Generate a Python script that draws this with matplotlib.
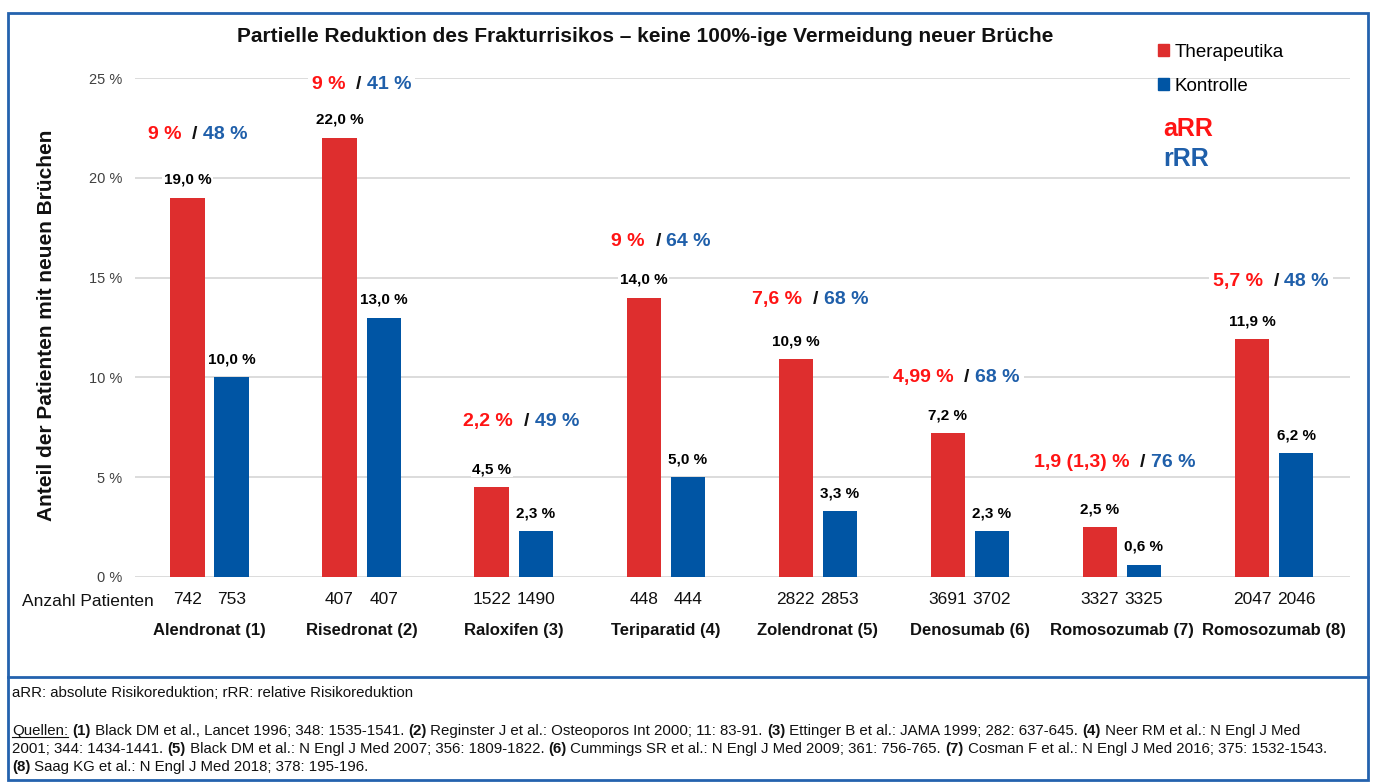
import matplotlib
matplotlib.use("Agg")
import matplotlib.pyplot as plt
import numpy as np
from matplotlib import font_manager
from matplotlib.patches import Patch, Rectangle
from matplotlib.lines import Line2D
from matplotlib.offsetbox import TextArea, HPacker, AnnotationBbox
from matplotlib.transforms import blended_transform_factory

# ---------------------------------------------------------------------------
# Data
# ---------------------------------------------------------------------------
categories = ["Alendronat (1)", "Risedronat (2)", "Raloxifen (3)", "Teriparatid (4)",
              "Zolendronat (5)", "Denosumab (6)", "Romosozumab (7)", "Romosozumab (8)"]
therapie = [19.0, 22.0, 4.5, 14.0, 10.9, 7.2, 2.5, 11.9]
kontrolle = [10.0, 13.0, 2.3, 5.0, 3.3, 2.3, 0.6, 6.2]
n_therapie = [742, 407, 1522, 448, 2822, 3691, 3327, 2047]
n_kontrolle = [753, 407, 1490, 444, 2853, 3702, 3325, 2046]
arr = ["9 %", "9 %", "2,2 %", "9 %", "7,6 %", "4,99 %", "1,9 (1,3) %", "5,7 %"]
rrr = ["48 %", "41 %", "49 %", "64 %", "68 %", "68 %", "76 %", "48 %"]
y_ticks = [0, 5, 10, 15, 20, 25]

# layout of the aRR / rRR annotations (x shift in category units, y in %)
ann_dx = [-0.08, 0.0, 0.05, -0.03, -0.05, -0.09, -0.05, -0.02]
ann_y = [22.15, 24.65, 7.77, 16.8, 13.9, 9.97, 5.76, 14.8]

title = "Partielle Reduktion des Frakturrisikos \u2013 keine 100%-ige Vermeidung neuer Brüche"

# ---------------------------------------------------------------------------
# Style
# ---------------------------------------------------------------------------
names = {f.name for f in font_manager.fontManager.ttflist}
SANS = "Liberation Sans" if "Liberation Sans" in names else "DejaVu Sans"
NARROW = "Liberation Sans Narrow" if "Liberation Sans Narrow" in names else SANS
plt.rcParams["font.family"] = SANS

RED_BAR = "#DE2E2E"
BLUE_BAR = "#0055A4"
RED_TXT = "#FF1414"
BLUE_TXT = "#1F5FAA"
FRAME = "#2462AE"

W, H = 1375, 783
fig = plt.figure(figsize=(W / 100, H / 100), dpi=100)
ax = fig.add_axes([135 / W, 1 - 577 / H, (1350 - 135) / W, (577 - 78) / H])

x = np.arange(len(categories))
bw = 0.225
off = 0.145
ax.bar(x - off, therapie, bw, color=RED_BAR, zorder=3)
ax.bar(x + off, kontrolle, bw, color=BLUE_BAR, zorder=3)

ax.set_xlim(-0.49, 7.5)
ax.set_ylim(0, 25)
ax.set_yticks(y_ticks, [f"{t} %" for t in y_ticks])
ax.set_xticks([])
ax.tick_params(axis="y", length=0, pad=9, labelsize=10.5, labelcolor="#404040")
ax.grid(axis="y", color="#D9D9D9", lw=1.3, zorder=0)
for s in ax.spines.values():
    s.set_visible(False)


def fmt(v):
    return f"{v:.1f}".replace(".", ",") + " %"


for xi, v in zip(x - off, therapie):
    ax.annotate(fmt(v), (xi, v), xytext=(0, 13), textcoords="offset points",
                ha="center", va="center", fontsize=11, fontweight="bold",
                family=NARROW, bbox=dict(fc="white", ec="none", pad=1), zorder=5)
for xi, v in zip(x + off, kontrolle):
    ax.annotate(fmt(v), (xi, v), xytext=(0, 13), textcoords="offset points",
                ha="center", va="center", fontsize=11, fontweight="bold",
                family=NARROW, bbox=dict(fc="white", ec="none", pad=1), zorder=5)

# aRR / rRR pairs
for i in range(len(categories)):
    parts = [TextArea(arr[i] + "  ", textprops=dict(color=RED_TXT, fontsize=14,
                                                     fontweight="bold", family=NARROW)),
             TextArea("/ ", textprops=dict(color="#111111", fontsize=14,
                                           fontweight="bold", family=NARROW)),
             TextArea(rrr[i], textprops=dict(color=BLUE_TXT, fontsize=14,
                                             fontweight="bold", family=NARROW))]
    box = HPacker(children=parts, align="baseline", pad=0, sep=0)
    ab = AnnotationBbox(box, (x[i] + ann_dx[i], ann_y[i]), frameon=True,
                        box_alignment=(0.5, 0.5), pad=0.3,
                        bboxprops=dict(fc="white", ec="none"), zorder=6)
    ax.add_artist(ab)

# counts and category names below the axis
tr = blended_transform_factory(ax.transData, fig.transFigure)
for xi, n in zip(x - off, n_therapie):
    ax.text(xi, 1 - 600 / H, str(n), transform=tr, ha="center", va="center",
            fontsize=12.5, color="#111111")
for xi, n in zip(x + off, n_kontrolle):
    ax.text(xi, 1 - 600 / H, str(n), transform=tr, ha="center", va="center",
            fontsize=12.5, color="#111111")
for xi, c in zip(x, categories):
    ax.text(xi, 1 - 631 / H, c, transform=tr, ha="center", va="center",
            fontsize=12, fontweight="bold", family=NARROW, color="#111111")
fig.text(22 / W, 1 - 601 / H, "Anzahl Patienten", ha="left", va="center",
         fontsize=12.5, color="#111111")

fig.text(47 / W, 1 - 325 / H, "Anteil der Patienten mit neuen Brüchen", rotation=90,
         ha="center", va="center", fontsize=15, fontweight="bold", color="#111111")
fig.text(645 / W, 1 - 37 / H, title, ha="center", va="center", fontsize=15,
         fontweight="bold", family=NARROW, color="#111111")

# legend
handles = [Patch(color=RED_BAR, label="Therapeutika"),
           Patch(color=BLUE_BAR, label="Kontrolle")]
fig.legend(handles=handles, loc="upper left", bbox_to_anchor=(1158 / W, 1 - 44 / H),
           frameon=False, fontsize=13.5, handlelength=0.6, handleheight=0.6,
           handletextpad=0.3, labelspacing=0.9, borderaxespad=0, borderpad=0)
fig.text(1163 / W, 1 - 129 / H, "aRR", color=RED_TXT, fontsize=18,
         fontweight="bold", va="center")
fig.text(1163 / W, 1 - 159 / H, "rRR", color=BLUE_TXT, fontsize=18,
         fontweight="bold", va="center")

# frame and divider
fig.patches.append(Rectangle((8 / W, 3 / H), (1368 - 8) / W, (780 - 13) / H,
                             transform=fig.transFigure, fill=False, ec=FRAME, lw=2))
fig.lines.append(Line2D([8 / W, 1368 / W], [1 - 677 / H] * 2, transform=fig.transFigure,
                        color=FRAME, lw=2))

# footer
FOOT = 10.8
fig.text(12 / W, 1 - 693 / H, "aRR: absolute Risikoreduktion; rRR: relative Risikoreduktion",
         ha="left", va="center", fontsize=FOOT, color="#111111")

footer_lines = [
    [("Quellen:", "u"), (" ", ""), ("(1)", "b"),
     (" Black DM et al., Lancet 1996; 348: 1535-1541. ", ""), ("(2)", "b"),
     (" Reginster J et al.: Osteoporos Int 2000; 11: 83-91. ", ""), ("(3)", "b"),
     (" Ettinger B et al.: JAMA 1999; 282: 637-645. ", ""), ("(4)", "b"),
     (" Neer RM et al.: N Engl J Med", "")],
    [("2001; 344: 1434-1441. ", ""), ("(5)", "b"),
     (" Black DM et al.: N Engl J Med 2007; 356: 1809-1822. ", ""), ("(6)", "b"),
     (" Cummings SR et al.: N Engl J Med 2009; 361: 756-765. ", ""), ("(7)", "b"),
     (" Cosman F et al.: N Engl J Med 2016; 375: 1532-1543.", "")],
    [("(8)", "b"), (" Saag KG et al.: N Engl J Med 2018; 378: 195-196.", "")],
]
footer_y = [731, 749, 767]

renderer = fig.canvas.get_renderer()
for runs, yy in zip(footer_lines, footer_y):
    xp = 12
    for s, style in runs:
        t = fig.text(xp / W, 1 - yy / H, s, ha="left", va="center", fontsize=FOOT,
                     fontweight="bold" if style == "b" else "normal", color="#111111")
        bb = t.get_window_extent(renderer)
        if style == "u":
            fig.lines.append(Line2D([bb.x0 / W, bb.x1 / W], [(bb.y0 + 1) / H] * 2,
                                    transform=fig.transFigure, color="#111111", lw=0.8))
        xp += bb.width

fig.savefig("out.png", dpi=100)
